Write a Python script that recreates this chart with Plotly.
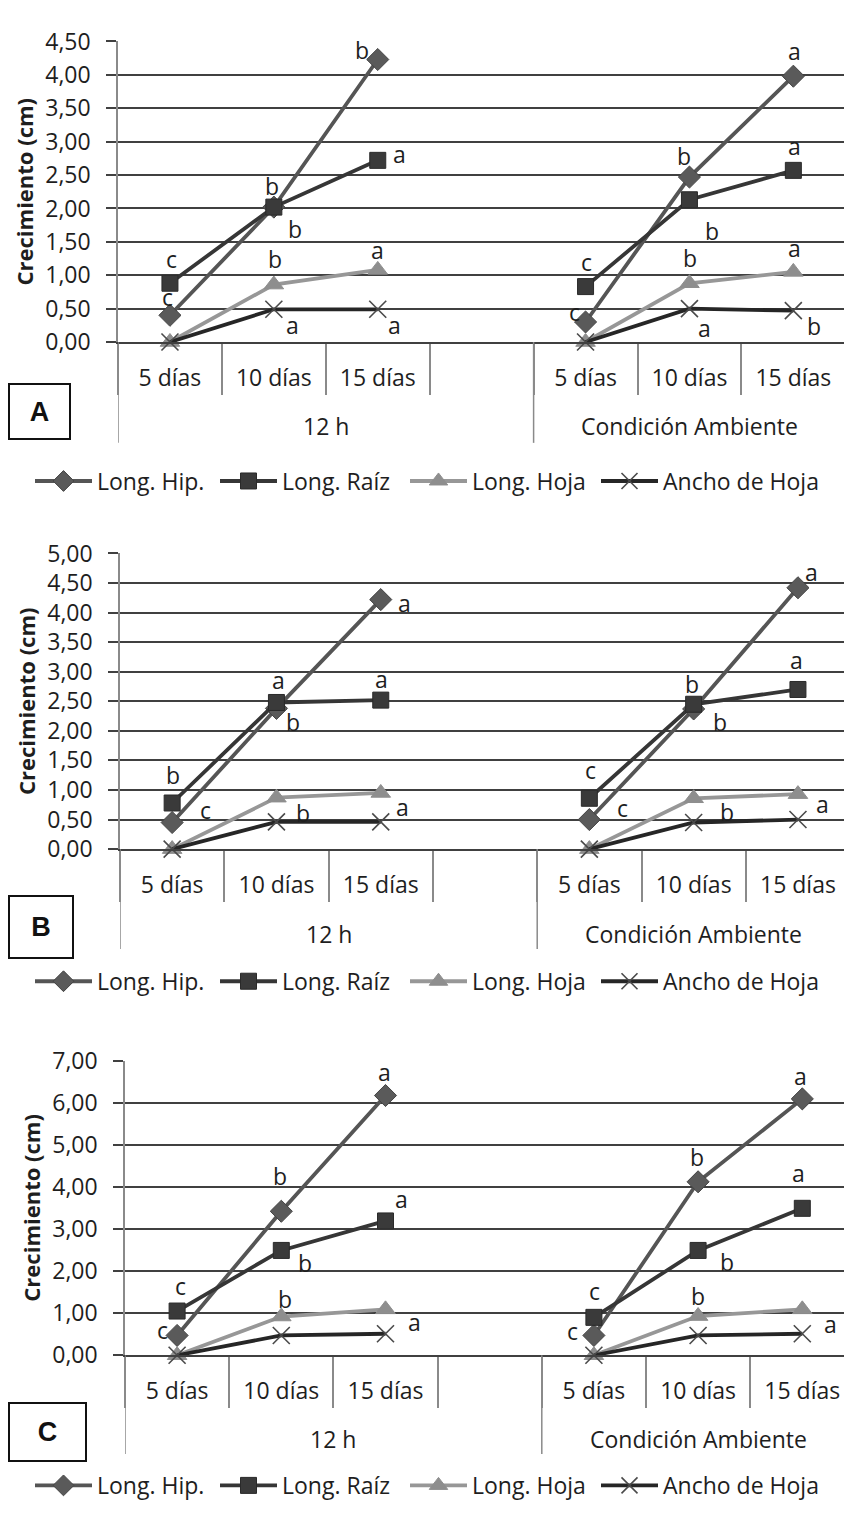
import plotly.graph_objects as go

W, H = 844, 1521

# ---------------- data ----------------
groups = ["12 h", "Condición Ambiente"]
days = ["5 días", "10 días", "15 días"]
series_names = ["Long. Hip.", "Long. Raíz", "Long. Hoja", "Ancho de Hoja"]

# Panel A
A_hip_12h = [0.40, 2.02, 4.23]
A_hip_amb = [0.30, 2.47, 3.98]
A_raiz_12h = [0.88, 2.02, 2.72]
A_raiz_amb = [0.83, 2.13, 2.57]
A_hoja_12h = [0.00, 0.86, 1.08]
A_hoja_amb = [0.00, 0.88, 1.05]
A_ancho_12h = [0.00, 0.49, 0.49]
A_ancho_amb = [0.00, 0.50, 0.47]

# Panel B
B_hip_12h = [0.45, 2.38, 4.22]
B_hip_amb = [0.50, 2.37, 4.42]
B_raiz_12h = [0.78, 2.48, 2.52]
B_raiz_amb = [0.86, 2.45, 2.70]
B_hoja_12h = [0.00, 0.87, 0.95]
B_hoja_amb = [0.00, 0.86, 0.93]
B_ancho_12h = [0.00, 0.46, 0.46]
B_ancho_amb = [0.00, 0.45, 0.50]

# Panel C
C_hip_12h = [0.47, 3.42, 6.17]
C_hip_amb = [0.47, 4.12, 6.09]
C_raiz_12h = [1.05, 2.49, 3.19]
C_raiz_amb = [0.90, 2.49, 3.49]
C_hoja_12h = [0.00, 0.92, 1.09]
C_hoja_amb = [0.00, 0.93, 1.09]
C_ancho_12h = [0.00, 0.47, 0.51]
C_ancho_amb = [0.00, 0.47, 0.51]

y_max = {"A": 4.5, "B": 5.0, "C": 7.0}
y_dtick = {"A": 0.5, "B": 0.5, "C": 1.0}

# significance letters: (panel, group, day, series, letter, dx, dy_up)
letters = [
    ("A", 0, 0, 1, "c", 2, 24), ("A", 0, 0, 0, "c", -2, 18),
    ("A", 0, 1, 1, "b", -2, 21), ("A", 0, 1, 0, "b", 21, -22),
    ("A", 0, 1, 2, "b", 1, 26), ("A", 0, 1, 3, "a", 19, -16),
    ("A", 0, 2, 0, "b", -16, 10), ("A", 0, 2, 1, "a", 22, 6),
    ("A", 0, 2, 2, "a", 0, 20), ("A", 0, 2, 3, "a", 17, -16),
    ("A", 1, 0, 1, "c", 1, 25), ("A", 1, 0, 0, "c", -11, 10),
    ("A", 1, 1, 0, "b", -5, 21), ("A", 1, 1, 1, "b", 23, -31),
    ("A", 1, 1, 2, "b", 1, 25), ("A", 1, 1, 3, "a", 15, -19),
    ("A", 1, 2, 0, "a", 1, 25), ("A", 1, 2, 1, "a", 1, 24),
    ("A", 1, 2, 2, "a", 1, 24), ("A", 1, 2, 3, "b", 21, -15),

    ("B", 0, 0, 1, "b", 1, 28), ("B", 0, 0, 0, "c", 33, 13),
    ("B", 0, 1, 1, "a", 2, 22), ("B", 0, 1, 0, "b", 17, -14),
    ("B", 0, 1, 3, "b", 27, 9),
    ("B", 0, 2, 0, "a", 24, -3), ("B", 0, 2, 1, "a", 1, 21),
    ("B", 0, 2, 2, "a", 22, -14),
    ("B", 1, 0, 1, "c", 1, 28), ("B", 1, 0, 0, "c", 33, 12),
    ("B", 1, 1, 1, "b", -2, 20), ("B", 1, 1, 0, "b", 26, -13),
    ("B", 1, 1, 3, "b", 33, 11),
    ("B", 1, 2, 0, "a", 14, 16), ("B", 1, 2, 1, "a", -1, 29),
    ("B", 1, 2, 2, "a", 25, -10),

    ("C", 0, 0, 1, "c", 3, 25), ("C", 0, 0, 0, "c", -15, 5),
    ("C", 0, 1, 0, "b", -1, 35), ("C", 0, 1, 1, "b", 24, -13),
    ("C", 0, 1, 2, "b", 4, 18),
    ("C", 0, 2, 0, "a", -1, 24), ("C", 0, 2, 1, "a", 16, 22),
    ("C", 0, 2, 2, "a", 29, -13),
    ("C", 1, 0, 1, "c", 1, 26), ("C", 1, 0, 0, "c", -21, 4),
    ("C", 1, 1, 0, "b", -1, 25), ("C", 1, 1, 1, "b", 29, -12),
    ("C", 1, 1, 2, "b", 0, 20),
    ("C", 1, 2, 0, "a", -2, 23), ("C", 1, 2, 1, "a", -4, 35),
    ("C", 1, 2, 2, "a", 28, -15),
]

panels = {
    "A": [(A_hip_12h, A_hip_amb), (A_raiz_12h, A_raiz_amb), (A_hoja_12h, A_hoja_amb), (A_ancho_12h, A_ancho_amb)],
    "B": [(B_hip_12h, B_hip_amb), (B_raiz_12h, B_raiz_amb), (B_hoja_12h, B_hoja_amb), (B_ancho_12h, B_ancho_amb)],
    "C": [(C_hip_12h, C_hip_amb), (C_raiz_12h, C_raiz_amb), (C_hoja_12h, C_hoja_amb), (C_ancho_12h, C_ancho_amb)],
}

# ---------------- categories (gap slot after 12 h group) ----------------
def cid(g, d):
    return groups[g] + "|" + d

cat_ids = [cid(0, d) for d in days] + [cid(0, " ")] + [cid(1, d) for d in days]
cat_text = days + [""] + days

def build(v12, vamb):
    return list(v12) + [None] + list(vamb)

# ---------------- styles / layout geometry ----------------
FONT = "Open Sans"
FS = 23
TXT = "#1e1e1e"
GRID = "#404040"
VLINE = "#8a8a8a"

styles = [
    dict(line=dict(color="#555555", width=3.8),
         marker=dict(symbol="diamond", size=17, color="#5a5a5a", line=dict(color="#444", width=1))),
    dict(line=dict(color="#363636", width=3.8),
         marker=dict(symbol="square", size=16, color="#3a3a3a", line=dict(color="#2a2a2a", width=1))),
    dict(line=dict(color="#979797", width=3.8),
         marker=dict(symbol="triangle-up", size=17, color="#8e8e8e", line=dict(color="#8e8e8e", width=1))),
    dict(line=dict(color="#262626", width=3.8),
         marker=dict(symbol="x-thin", size=17, color="#4a4a4a", line=dict(color="#4a4a4a", width=1.6))),
]

# pixel geometry per panel
geo = {
    "A": dict(left=118, slot=103.9, top=25, bottom=332, divbot=435, grp_y=418,
              box=(39.5, 402.5, 59, 53), leg_y=474),
    "B": dict(left=120, slot=104.3, top=548, bottom=850, divbot=952, grp_y=937,
              box=(41, 930, 62, 60), leg_y=985),
    "C": dict(left=125, slot=104.2, top=1066, bottom=1367, divbot=1468, grp_y=1453,
              box=(47.5, 1445, 75, 56), leg_y=1500),
}
legend_x = [30, 215, 405, 596]   # left edge of each legend entry (px)

def px(x):
    return x / W

def py(y):
    return 1 - y / H

fig = go.Figure()
annotations = []
shapes = []
layout_axes = {}

for k, (pname, sers) in enumerate(panels.items()):
    n = k + 1
    xa = "x" if n == 1 else f"x{n}"
    ya = "y" if n == 1 else f"y{n}"
    g = geo[pname]
    for si, (v12, vamb) in enumerate(sers):
        li = k * 4 + si + 1
        leg = "legend" if li == 1 else f"legend{li}"
        fig.add_trace(go.Scatter(
            x=cat_ids, y=build(v12, vamb), mode="lines+markers",
            name=series_names[si], xaxis=xa, yaxis=ya, legend=leg,
            cliponaxis=False, connectgaps=False, **styles[si]))
        layout_axes[leg] = dict(orientation="h", x=px(legend_x[si]), y=py(g["leg_y"]),
                                xanchor="left", yanchor="middle",
                                itemwidth=57, bgcolor="rgba(0,0,0,0)",
                                font=dict(family=FONT, size=FS, color=TXT))

    x_end = -0.5 + (W - g["left"]) / g["slot"]
    layout_axes["xaxis" if n == 1 else f"xaxis{n}"] = dict(
        domain=[px(g["left"]), 1], anchor=ya, type="category",
        categoryorder="array", categoryarray=cat_ids,
        tickmode="array", tickvals=cat_ids, ticktext=cat_text,
        range=[-0.5, x_end], tickson="boundaries", ticks="outside",
        ticklen=51, tickwidth=1.5, tickcolor=VLINE, ticklabelstandoff=14,
        showline=True, linecolor=GRID, linewidth=2, showgrid=False, zeroline=False,
        tickfont=dict(family=FONT, size=FS, color=TXT), fixedrange=True)
    layout_axes["yaxis" if n == 1 else f"yaxis{n}"] = dict(
        domain=[py(g["bottom"]), py(g["top"])], anchor=xa,
        range=[0, y_max[pname]], dtick=y_dtick[pname], tick0=0, tickformat=".2f",
        showgrid=True, gridcolor=GRID, gridwidth=2, zeroline=False,
        ticks="outside", ticklen=10, tickwidth=2, tickcolor=GRID,
        ticklabelstandoff=11,
        showline=True, linecolor=VLINE, linewidth=1.5,
        tickfont=dict(family=FONT, size=FS, color=TXT),
        title=dict(text="Crecimiento (cm)", standoff=6,
                   font=dict(family=FONT, size=22, color=TXT, weight="bold")),
        fixedrange=True)

    # group dividers and labels
    first_idx = [cat_ids.index(cid(gi, days[0])) for gi in range(len(groups))]
    last_idx = [cat_ids.index(cid(0, " ")), cat_ids.index(cid(1, days[-1]))]
    for gi in range(len(groups)):
        shapes.append(dict(type="line", xref=xa, yref="paper",
                           x0=first_idx[gi] - 0.5, x1=first_idx[gi] - 0.5,
                           y0=py(g["bottom"]), y1=py(g["divbot"]),
                           line=dict(color=VLINE, width=1.5)))
        annotations.append(dict(xref=xa, yref="paper",
                                x=(first_idx[gi] + last_idx[gi]) / 2, y=py(g["grp_y"]),
                                text=groups[gi], showarrow=False,
                                xanchor="center", yanchor="middle",
                                font=dict(family=FONT, size=FS, color=TXT)))

    # panel letter box
    bx, by, bw, bh = g["box"]
    annotations.append(dict(xref="paper", yref="paper", x=px(bx), y=py(by),
                            xanchor="center", yanchor="middle",
                            text="<b>" + pname + "</b>", showarrow=False,
                            width=bw, height=bh, borderwidth=2, bordercolor="#111",
                            borderpad=0, bgcolor="white",
                            font=dict(family="Liberation Sans", size=27, color="#111")))

# significance letters
for (pname, gi, di, si, letter, dx, dy) in letters:
    n = "ABC".index(pname) + 1
    xa = "x" if n == 1 else f"x{n}"
    ya = "y" if n == 1 else f"y{n}"
    vals = panels[pname][si][gi]
    annotations.append(dict(xref=xa, yref=ya, x=cid(gi, days[di]), y=vals[di],
                            xshift=dx, yshift=dy, text=letter, showarrow=False,
                            font=dict(family=FONT, size=FS, color=TXT)))

fig.update_layout(
    width=W, height=H, margin=dict(l=0, r=0, t=0, b=0),
    paper_bgcolor="white", plot_bgcolor="white",
    separators=",.", showlegend=True,
    annotations=annotations, shapes=shapes, **layout_axes)

fig.write_html("out.html")
